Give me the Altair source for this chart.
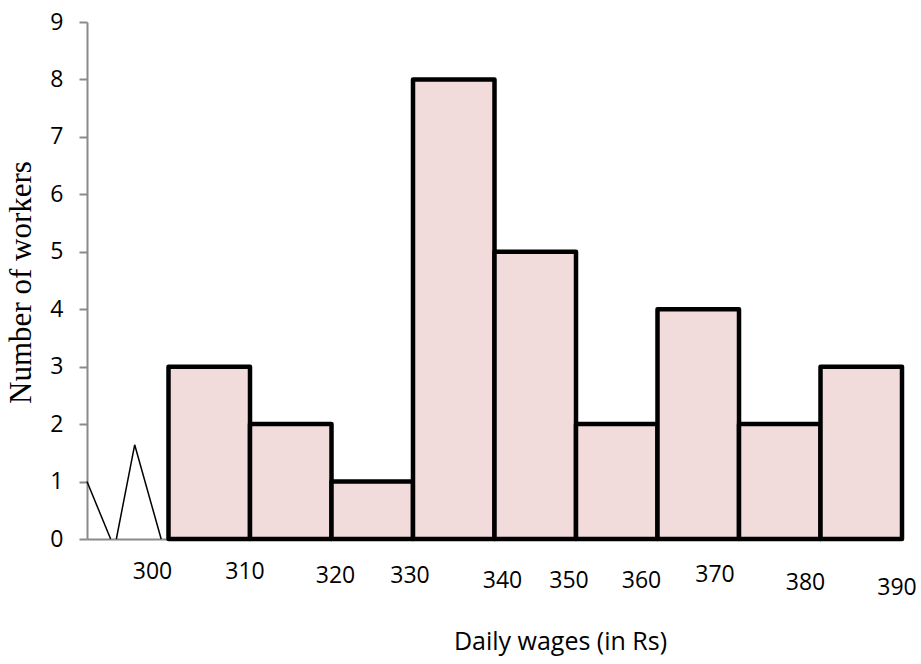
import altair as alt
import pandas as pd

# Frequency table: daily wage classes and number of workers
bin_start = [300, 310, 320, 330, 340, 350, 360, 370, 380]
bin_end = [310, 320, 330, 340, 350, 360, 370, 380, 390]
workers = [3, 2, 1, 8, 5, 2, 4, 2, 3]

# Wage labels written under the axis, with a small pixel nudge for each
tick_labels = [300, 310, 320, 330, 340, 350, 360, 370, 380, 390]
label_dx = [-16, -5, 4, -3, 8, -7, -16, -24, -15, -5]
label_dy = [40, 40, 44, 44, 49, 49, 49, 43, 51, 56]

# Zigzag showing the broken scale between 0 and 300
break_x = [290, 292.9, 293.6, 295.85, 299.1]
break_y = [1, 0, 0, 1.64, 0]
break_part = [0, 0, 1, 1, 1]

PLOT_W = 815
PLOT_H = 517
X_MIN, X_MAX = 290, 390

bars_df = pd.DataFrame({"start": bin_start, "end": bin_end, "workers": workers})
labels_df = pd.DataFrame({"wage": tick_labels, "dx": label_dx, "dy": label_dy})
break_df = pd.DataFrame({
    "x": break_x, "y": break_y, "part": break_part,
    "idx": list(range(len(break_x))),
})

AXIS_GRAY = "#8a8a8a"
SANS = "Open Sans"

x_scale = alt.Scale(domain=[X_MIN, X_MAX], nice=False, zero=False)
y_scale = alt.Scale(domain=[0, 9], nice=False)

x_axis = alt.Axis(
    title="Daily wages (in Rs)",
    labels=False, ticks=False, grid=False,
    domainColor=AXIS_GRAY, domainWidth=2,
    titleFont=SANS, titleFontSize=25, titleFontWeight="normal",
    titleColor="black", titleX=473, titleY=110,
    titleAlign="center", titleBaseline="alphabetic",
    zindex=0,
)
y_axis = alt.Axis(
    title="Number of workers",
    values=list(range(0, 10)), format="d", grid=False,
    tickSize=8, tickWidth=2, tickColor=AXIS_GRAY,
    domainColor=AXIS_GRAY, domainWidth=2,
    labelFont=SANS, labelFontSize=23, labelColor="black", labelPadding=16,
    titleFont="Liberation Serif", titleFontSize=31, titleFontWeight="normal",
    titleColor="black", titleX=-57, titleY=260, titleAngle=-90,
    titleAlign="center", titleBaseline="alphabetic",
    zindex=0,
)

bars = alt.Chart(bars_df).mark_rect(
    fill="#F2DCDB", stroke="black", strokeWidth=4.5, strokeJoin="round"
).encode(
    x=alt.X("start:Q", scale=x_scale, axis=x_axis),
    x2="end:Q",
    y=alt.Y("workers:Q", scale=y_scale, axis=y_axis),
    y2=alt.datum(0),
)

# Horizontal nudge converted from pixels into wage units
px_per_unit = PLOT_W / (X_MAX - X_MIN)
wage_labels = alt.Chart(labels_df).transform_calculate(
    xpos=f"datum.wage + datum.dx / {px_per_unit}"
).mark_text(
    font=SANS, fontSize=23, color="black", align="center", baseline="alphabetic"
).encode(
    x=alt.X("xpos:Q", scale=x_scale),
    y=alt.datum(0),
    yOffset=alt.YOffset("dy:Q", scale=None),
    text=alt.Text("wage:Q"),
)

zigzag = alt.Chart(break_df).mark_line(color="black", strokeWidth=1.5).encode(
    x=alt.X("x:Q", scale=x_scale),
    y=alt.Y("y:Q", scale=y_scale),
    detail="part:N",
    order="idx:Q",
)

chart = alt.layer(bars, zigzag, wage_labels).properties(
    width=PLOT_W,
    height=PLOT_H,
    background="white",
    padding={"left": 87, "top": 22, "right": 19, "bottom": 125},
    autosize=alt.AutoSizeParams(type="none"),
).configure_view(stroke=None)

chart.save("out.html", embed_options={"renderer": "svg", "actions": False})
